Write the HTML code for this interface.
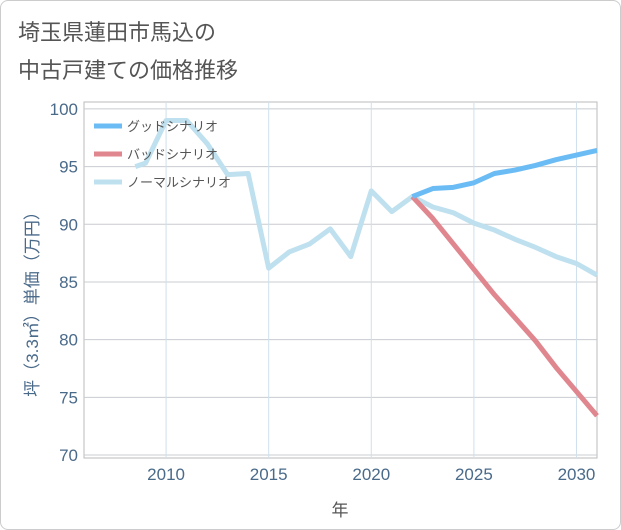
<!DOCTYPE html>
<html><head><meta charset="utf-8"><style>
body{margin:0;background:#fff;}
.f{font-family:"Liberation Sans","Noto Sans CJK JP",sans-serif;}
</style></head><body>
<div style="position:relative;width:619px;height:528px;border:1px solid #ccc;border-radius:8px;overflow:hidden;">
<svg id="chart" width="621" height="530" class="f" style="position:absolute;left:-1px;top:-1px;">
<text x="18" y="40" font-size="22" fill="#555">埼玉県蓮田市馬込の</text>
<text x="18" y="78" font-size="22" fill="#555">中古戸建ての価格推移</text>
<g id="grid"></g><g id="lines"></g>
<text x="340" y="516" font-size="17" fill="#555" text-anchor="middle">年</text>
<text transform="translate(38,300) rotate(-90)" font-size="17" fill="#4a6a8a" text-anchor="middle">坪（3.3㎡）単価（万円）</text>
<g font-size="13" fill="#555">
<line x1="94" y1="126" x2="122" y2="126" stroke="#6bbcf5" stroke-width="5"/><text x="127" y="131">グッドシナリオ</text>
<line x1="94" y1="154" x2="122" y2="154" stroke="#e0868e" stroke-width="5"/><text x="127" y="159">バッドシナリオ</text>
<line x1="94" y1="182" x2="122" y2="182" stroke="#bfe0ee" stroke-width="5"/><text x="127" y="187">ノーマルシナリオ</text>
</g>
</svg></div>
<script>
const normalYears=[2008.5,2009,2010,2011,2012,2013,2014,2015,2016,2017,2018,2019,2020,2021,2022,2023,2024,2025,2026,2027,2028,2029,2030,2031];
const normalValues=[95.0,95.3,99.0,99.0,97.0,94.3,94.4,86.2,87.6,88.3,89.6,87.2,92.9,91.1,92.4,91.5,91.0,90.1,89.5,88.7,88.0,87.2,86.6,85.6];
const futureYears=[2022,2023,2024,2025,2026,2027,2028,2029,2030,2031];
const goodValues=[92.4,93.1,93.2,93.6,94.4,94.7,95.1,95.6,96.0,96.4];
const badValues=[92.4,90.5,88.3,86.1,83.9,81.9,79.9,77.6,75.5,73.4];
const xTicks=[2010,2015,2020,2025,2030];
const yTicks=[70,75,80,85,90,95,100];
const L=84,R=597,T=102,B=458,x0=2006,x1=2031,y0=69.74,y1=100.6;
const X=v=>L+(v-x0)/(x1-x0)*(R-L), Y=v=>B-(v-y0)/(y1-y0)*(B-T);
const NS="http://www.w3.org/2000/svg";
const g=document.getElementById('grid'), lg=document.getElementById('lines');
function mk(p,tag,a){const e=document.createElementNS(NS,tag);for(const k in a)e.setAttribute(k,a[k]);p.appendChild(e);return e;}
const bg=mk(g,'rect',{x:L,y:T,width:R-L,height:B-T,fill:'none',stroke:'#bbb'});


yTicks.forEach(t=>{const l=mk(g,'line',{x1:L,x2:R,y1:Y(t),y2:Y(t),stroke:'#c8ccd0'});


const tx=mk(g,'text',{x:L-6,y:Y(t)+6,'font-size':17,fill:'#4a6a8a','text-anchor':'end'});tx.textContent=t;

});
xTicks.forEach(t=>{const l=mk(g,'line',{x1:X(t),x2:X(t),y1:T,y2:B,stroke:'#cfe0ec'});


const tx=mk(g,'text',{x:X(t),y:B+22,'font-size':17,fill:'#4a6a8a','text-anchor':'middle'});tx.textContent=t;

});
function line(xs,ys,c,name){const p=mk(lg,'polyline',{points:xs.map((v,i)=>X(v)+','+Y(ys[i])).join(' '),fill:'none',stroke:c,'stroke-width':5,'stroke-linejoin':'round'});

}
line(normalYears,normalValues,'#bfe0ee','normal-scenario-line');
line(futureYears,badValues,'#e0868e','bad-scenario-line');
line(futureYears,goodValues,'#6bbcf5','good-scenario-line');
</script>
</body></html>
